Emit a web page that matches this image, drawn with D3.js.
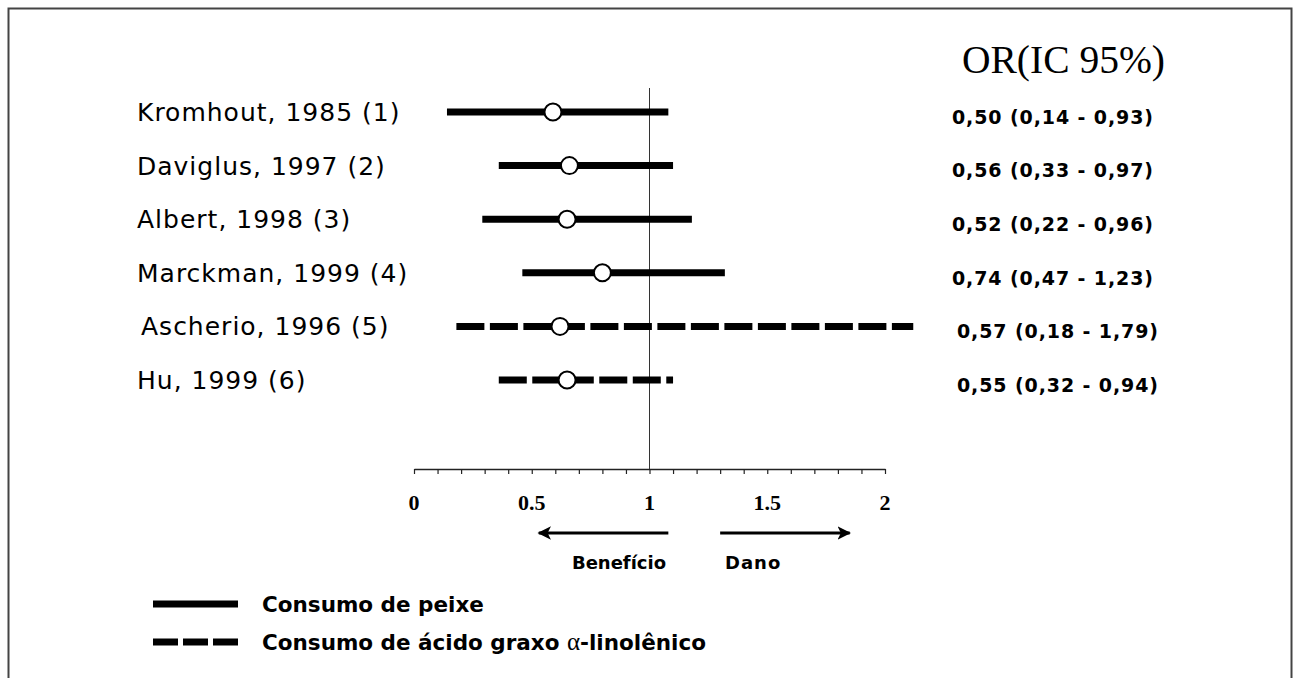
<!DOCTYPE html>
<html>
<head>
<meta charset="utf-8">
<script src="https://cdn.jsdelivr.net/npm/d3@7"></script>
<style>
  body { margin: 0; background: #fff; }
  svg { display: block; }
</style>
</head>
<body>
<div id="chart"></div>
<script>
// studies, top to bottom
const studies = [
  'Kromhout, 1985 (1)',
  'Daviglus, 1997 (2)',
  'Albert, 1998 (3)',
  'Marckman, 1999 (4)',
  'Ascherio, 1996 (5)',
  'Hu, 1999 (6)'
];
// 'peixe' = fish intake (solid), 'ala' = alpha-linolenic acid (dashed)
const exposure = ['peixe', 'peixe', 'peixe', 'peixe', 'ala', 'ala'];
// positions as drawn in the figure
const estimate = [0.59, 0.66, 0.65, 0.80, 0.62, 0.65];
const lower = [0.14, 0.36, 0.29, 0.46, 0.18, 0.36];
const upper = [1.08, 1.10, 1.18, 1.32, 2.12, 1.10];
// printed OR (IC 95%)
const orLabels = [
  '0,50 (0,14 - 0,93)',
  '0,56 (0,33 - 0,97)',
  '0,52 (0,22 - 0,96)',
  '0,74 (0,47 - 1,23)',
  '0,57 (0,18 - 1,79)',
  '0,55 (0,32 - 0,94)'
];
const tickLabels = [0, 0.5, 1, 1.5, 2];
const legendItems = ['Consumo de peixe', 'Consumo de ácido graxo '];

const width = 1298;
const height = 678;

const svg = d3.select('#chart')
  .append('svg')
  .attr('width', width)
  .attr('height', height);

// frame
svg.append('rect')
  .attr('x', 8.5).attr('y', 8.5)
  .attr('width', 1283).attr('height', 700)
  .attr('fill', 'none')
  .attr('stroke', '#444')
  .attr('stroke-width', 2);

const xScale = d3.scaleLinear([0, 2], [414, 885]);
const yScale = d3.scalePoint(studies, [112, 380]);
const axisY = 469;

// x axis with ticks every 0.1
const xAxis = d3.axisBottom(xScale)
  .tickValues(d3.range(0, 21).map(i => i / 10))
  .tickSize(5)
  .tickSizeOuter(0)
  .tickFormat('');

const gX = svg.append('g')
  .attr('transform', `translate(0,${axisY})`)
  .call(xAxis);
gX.select('.domain').attr('stroke', '#222').attr('stroke-width', 1.5);
gX.selectAll('.tick line').attr('stroke', '#222').attr('stroke-width', 1.2);

svg.append('g')
  .selectAll('text')
  .data(tickLabels)
  .join('text')
  .attr('x', d => xScale(d))
  .attr('y', axisY + 41)
  .attr('text-anchor', 'middle')
  .attr('font-family', 'Liberation Serif, serif')
  .attr('font-weight', 'bold')
  .attr('font-size', 22)
  .text(d => d);

// reference line at OR = 1
svg.append('line')
  .attr('x1', xScale(1)).attr('x2', xScale(1))
  .attr('y1', 88).attr('y2', axisY)
  .attr('stroke', '#333')
  .attr('stroke-width', 1);

// benefit / harm arrows
svg.append('defs').append('marker')
  .attr('id', 'head')
  .attr('viewBox', '0 0 10 10')
  .attr('refX', 9).attr('refY', 5)
  .attr('markerWidth', 4.5).attr('markerHeight', 4.5)
  .attr('markerUnits', 'strokeWidth')
  .attr('orient', 'auto')
  .append('path')
  .attr('d', 'M0,0 L10,5 L0,10 L2.5,5 Z')
  .attr('fill', '#000');

const arrows = [[1.08, 0.53], [1.30, 1.85]];
svg.append('g')
  .selectAll('line')
  .data(arrows)
  .join('line')
  .attr('x1', d => xScale(d[0]))
  .attr('x2', d => xScale(d[1]))
  .attr('y1', 533).attr('y2', 533)
  .attr('stroke', '#000')
  .attr('stroke-width', 3)
  .attr('marker-end', 'url(#head)');

svg.append('text')
  .attr('x', 619).attr('y', 569)
  .attr('text-anchor', 'middle')
  .attr('font-family', 'DejaVu Sans, sans-serif')
  .attr('font-weight', 'bold')
  .attr('font-size', 18)
  .text('Benefício');
svg.append('text')
  .attr('x', 725).attr('y', 569)
  .attr('font-family', 'DejaVu Sans, sans-serif')
  .attr('font-weight', 'bold')
  .attr('font-size', 18)
  .attr('letter-spacing', 1)
  .text('Dano');

// confidence intervals
const rows = studies.map((s, i) => ({
  study: s, type: exposure[i], est: estimate[i], lo: lower[i], hi: upper[i], label: orLabels[i]
}));

svg.append('g')
  .selectAll('line')
  .data(rows)
  .join('line')
  .attr('x1', d => xScale(d.lo))
  .attr('x2', d => xScale(d.hi))
  .attr('y1', d => yScale(d.study))
  .attr('y2', d => yScale(d.study))
  .attr('stroke', '#000')
  .attr('stroke-width', 7)
  .attr('stroke-dasharray', d => d.type === 'ala' ? '28,5.5' : null);

svg.append('g')
  .selectAll('circle')
  .data(rows)
  .join('circle')
  .attr('cx', d => xScale(d.est))
  .attr('cy', d => yScale(d.study))
  .attr('r', 8.5)
  .attr('fill', '#fff')
  .attr('stroke', '#000')
  .attr('stroke-width', 2);

// study names
svg.append('g')
  .selectAll('text')
  .data(rows)
  .join('text')
  .attr('x', (d, i) => i === 4 ? 141 : 137)
  .attr('y', d => yScale(d.study))
  .attr('dy', '0.36em')
  .attr('font-family', 'DejaVu Sans, sans-serif')
  .attr('font-size', 25)
  .attr('letter-spacing', 1)
  .text(d => d.study);

// OR column
svg.append('text')
  .attr('x', 962).attr('y', 73)
  .attr('font-family', 'Liberation Serif, serif')
  .attr('font-size', 39.5)
  .text('OR(IC 95%)');

svg.append('g')
  .selectAll('text')
  .data(rows)
  .join('text')
  .attr('x', d => d.type === 'ala' ? 957 : 952)
  .attr('y', d => yScale(d.study) + 5)
  .attr('dy', '0.36em')
  .attr('font-family', 'DejaVu Sans, sans-serif')
  .attr('font-weight', 'bold')
  .attr('font-size', 19)
  .attr('letter-spacing', 0.9)
  .text(d => d.label);

// legend
const legend = svg.append('g')
  .selectAll('g')
  .data(legendItems)
  .join('g')
  .attr('transform', (d, i) => `translate(153,${604 + i * 38})`);

legend.append('line')
  .attr('x1', 0).attr('x2', 85)
  .attr('stroke', '#000')
  .attr('stroke-width', 7)
  .attr('stroke-dasharray', (d, i) => i === 1 ? '25,5' : null);

const lt = legend.append('text')
  .attr('x', 109)
  .attr('dy', '0.36em')
  .attr('font-family', 'DejaVu Sans, sans-serif')
  .attr('font-weight', 'bold')
  .attr('font-size', 21.5)
  .text(d => d);

lt.filter((d, i) => i === 1)
  .append('tspan')
  .attr('font-family', 'Liberation Serif, serif')
  .attr('font-weight', 'normal')
  .attr('font-size', 25)
  .text('α');
lt.filter((d, i) => i === 1)
  .append('tspan')
  .text('-linolênico');
</script>
</body>
</html>
